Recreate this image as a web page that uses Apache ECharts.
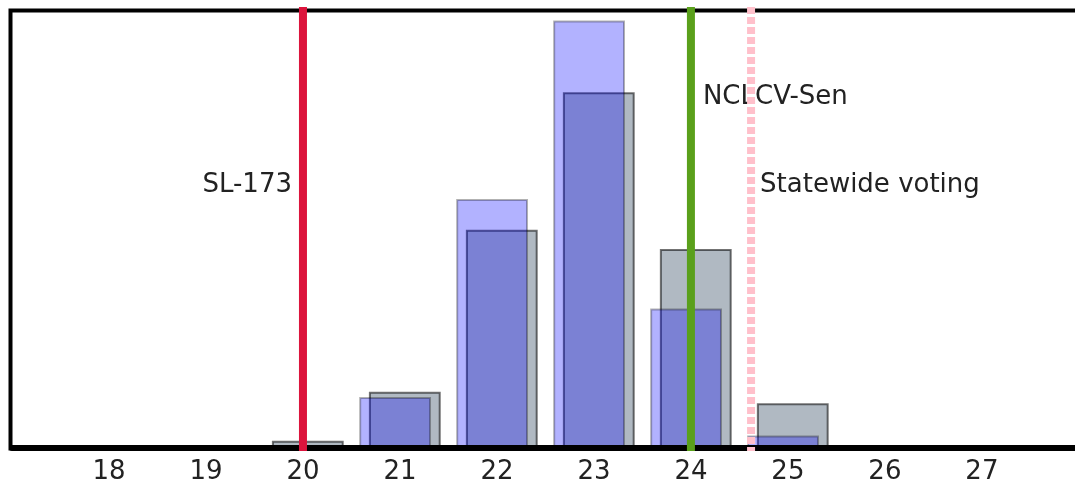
<!DOCTYPE html>
<html><head><meta charset="utf-8">
<script src="https://cdn.jsdelivr.net/npm/echarts@6/dist/echarts.min.js"></script>
<style>html,body{margin:0;padding:0;background:#fff}#c{width:1075px;height:487px}</style>
</head><body><div id="c"></div>
<script>
// ---- data ----
const binCenters = [20, 21, 22, 23, 24, 25];
const graySeries = [0.007, 0.063, 0.248, 0.405, 0.226, 0.050];
const blueSeries = [0, 0.057, 0.283, 0.487, 0.158, 0.013];
const xTicks = [18, 19, 20, 21, 22, 23, 24, 25, 26, 27];
const refNames = ['SL-173', 'NCLCV-Sen', 'Statewide voting'];
const refValues = [20, 24, 24.62];
const xMin = 17, xMax = 27.96;

// ---- styles ----
const barWidth = 0.72;
const grayOffset = 0.05, blueOffset = -0.05;
const refColors = ['#dc143c', '#5aa01b', '#ffc0cb'];
const refDash = [null, null, [7, 3]];
const refLabelY = [0.30, 0.40, 0.30];
const refLabelDx = [-11, 12, 9];
const refAlign = ['right', 'left', 'left'];
const FONT = '"DejaVu Sans", sans-serif';

function barRenderer(offset, fill, stroke) {
  return function (params, api) {
    const c = api.value(0), v = api.value(1);
    const p0 = api.coord([c + offset - barWidth / 2, v]);
    const p1 = api.coord([c + offset + barWidth / 2, 0]);
    return {
      type: 'rect',
      shape: { x: p0[0], y: p0[1], width: p1[0] - p0[0], height: p1[1] - p0[1] },
      style: { fill: fill, stroke: stroke, lineWidth: 2 }
    };
  };
}

const chart = echarts.init(document.getElementById('c'), null, { renderer: 'canvas' });
chart.setOption({
  animation: false,
  backgroundColor: '#fff',
  grid: { left: 12, top: 10, right: 0, bottom: 39, show: false },
  graphic: [{
    type: 'rect', left: 8, top: 8, z: 1, silent: true,
    shape: { x: 0, y: 0, width: 1100, height: 438 },
    style: { fill: 'none', stroke: '#000', lineWidth: 4 }
  }],
  xAxis: {
    type: 'value', min: xMin, max: xMax, interval: 1, z: 3,
    axisLine: { show: true, lineStyle: { color: '#000', width: 6 } },
    axisTick: { show: false },
    splitLine: { show: false },
    axisLabel: {
      margin: 11, color: '#222', fontFamily: FONT, fontSize: 26,
      showMinLabel: false, showMaxLabel: false,
      formatter: v => xTicks.includes(v) ? String(v) : ''
    }
  },
  yAxis: { type: 'value', min: 0, max: 0.5, show: false },
  series: [
    {
      type: 'custom', z: 2, clip: false,
      renderItem: barRenderer(grayOffset, 'rgba(112,128,144,0.55)', 'rgba(0,0,0,0.55)'),
      data: binCenters.map((c, i) => [c, graySeries[i]]).filter(d => d[1] > 0)
    },
    {
      type: 'custom', z: 2, clip: false,
      renderItem: barRenderer(blueOffset, 'rgba(0,0,255,0.3)', 'rgba(0,0,0,0.3)'),
      data: binCenters.map((c, i) => [c, blueSeries[i]]).filter(d => d[1] > 0)
    },
    {
      type: 'custom', z: 5, clip: false,
      renderItem: function (params, api) {
        const i = api.value(1);
        const x = api.value(0);
        const top = api.coord([x, 0.5]);
        const bot = api.coord([x, 0]);
        const lab = api.coord([x, refLabelY[i]]);
        return {
          type: 'group',
          children: [
            {
              type: 'line',
              shape: { x1: top[0], y1: top[1] - 3, x2: bot[0], y2: bot[1] + 3 },
              style: { stroke: refColors[i], lineWidth: 8, lineDash: refDash[i] }
            },
            {
              type: 'text',
              style: {
                x: lab[0] + refLabelDx[i], y: lab[1],
                text: refNames[i], fill: '#222', font: '26px ' + FONT,
                align: refAlign[i], verticalAlign: 'middle'
              }
            }
          ]
        };
      },
      data: refValues.map((v, i) => [v, i])
    }
  ]
});
</script>
</body></html>
